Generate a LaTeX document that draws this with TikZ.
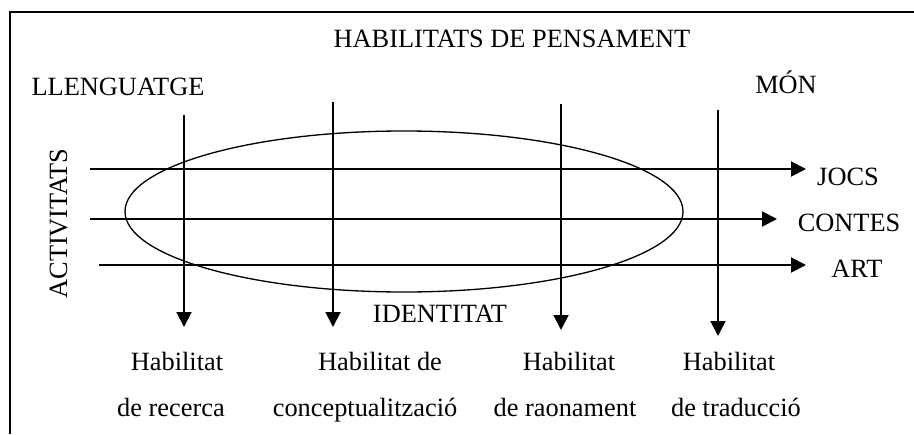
\documentclass[tikz,border=0pt]{standalone}
\usepackage{fontspec}
\setmainfont{Liberation Serif}
\usetikzlibrary{arrows.meta}
\tikzset{
	arr/.style={line width=1.1pt, -{Triangle[length=0.3cm, width=0.3cm]}},
	lbl/.style={anchor=base, inner sep=0pt, font=\fontsize{15}{18}\selectfont},
}

\begin{document}
\begin{tikzpicture}
			%%%%% START %%%%%
			
			\useasboundingbox (0, 0) rectangle (18.28, 8.68);
			\draw[line width=1.1pt] (0.2, 0) -- (0.2, 8.44) -- (18.28, 8.44);
			
			\node[lbl] (pensament) at (10.24, 7.74) {HABILITATS DE PENSAMENT};
			\node[lbl] (llenguatge) at (2.36, 6.78) {LLENGUATGE};
			\node[lbl] (mon) at (15.72, 6.82) {MÓN};
			\node[lbl, rotate=90, anchor=base] (activitats) at (1.34, 4.21) {ACTIVITATS};
			
			\draw[line width=0.75pt] (8.08, 4.45) ellipse (5.58 and 1.61);
			
			\coordinate (jocs0) at (1.8, 5.3);
			\coordinate (jocs1) at (16.12, 5.3);
			\coordinate (contes0) at (1.8, 4.3);
			\coordinate (contes1) at (15.54, 4.3);
			\coordinate (art0) at (1.98, 3.38);
			\coordinate (art1) at (16.12, 3.38);
			\draw[arr] (jocs0) -- (jocs1);
			\draw[arr] (contes0) -- (contes1);
			\draw[arr] (art0) -- (art1);
			
			\node[lbl] (jocs) at (16.96, 4.98) {JOCS};
			\node[lbl] (contes) at (16.98, 4.06) {CONTES};
			\node[lbl] (art) at (17.14, 3.14) {ART};
			
			\coordinate (recerca0) at (3.68, 6.38);
			\coordinate (recerca1) at (3.68, 2.14);
			\coordinate (concep0) at (6.66, 6.64);
			\coordinate (concep1) at (6.66, 2.14);
			\coordinate (raon0) at (11.22, 6.6);
			\coordinate (raon1) at (11.22, 2.08);
			\coordinate (trad0) at (14.36, 6.48);
			\coordinate (trad1) at (14.36, 1.96);
			\draw[arr] (recerca0) -- (recerca1);
			\draw[arr] (concep0) -- (concep1);
			\draw[arr] (raon0) -- (raon1);
			\draw[arr] (trad0) -- (trad1);
			
			\node[lbl] (identitat) at (8.8, 2.24) {IDENTITAT};
			
			\node[lbl] (recerca) at (3.54, 1.28) {Habilitat};
			\node[lbl] (recercab) at (3.42, 0.36) {de recerca};
			\node[lbl] (concep) at (7.6, 1.28) {Habilitat de};
			\node[lbl] (concepb) at (7.3, 0.36) {conceptualització};
			\node[lbl] (raon) at (11.38, 1.28) {Habilitat};
			\node[lbl] (raonb) at (11.3, 0.36) {de raonament};
			\node[lbl] (trad) at (14.58, 1.28) {Habilitat};
			\node[lbl] (tradb) at (14.72, 0.36) {de traducció};
			
			%%%%% END %%%%%
\end{tikzpicture}
\end{document}
